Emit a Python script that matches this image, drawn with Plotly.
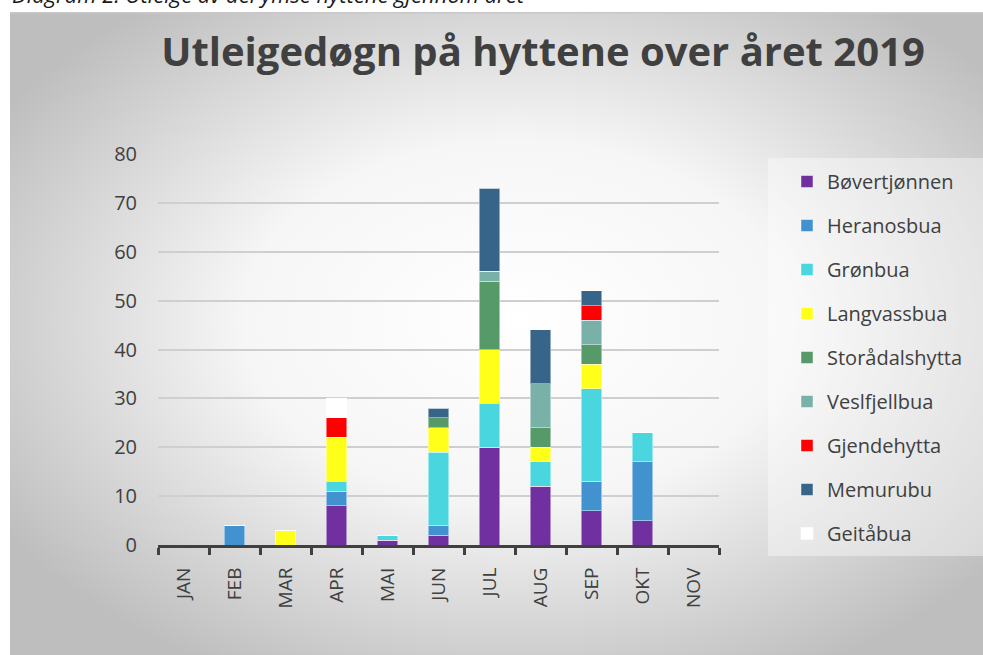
import base64
import plotly.graph_objects as go

# data
months = ["JAN", "FEB", "MAR", "APR", "MAI", "JUN", "JUL", "AUG", "SEP", "OKT", "NOV"]

bovertjonnen = [0, 0, 0, 8, 1, 2, 20, 12, 7, 5, 0]
heranosbua = [0, 4, 0, 3, 0, 2, 0, 0, 6, 12, 0]
gronbua = [0, 0, 0, 2, 1, 15, 9, 5, 19, 6, 0]
langvassbua = [0, 0, 3, 9, 0, 5, 11, 3, 5, 0, 0]
storadalshytta = [0, 0, 0, 0, 0, 2, 14, 4, 4, 0, 0]
veslfjellbua = [0, 0, 0, 0, 0, 0, 2, 9, 5, 0, 0]
gjendehytta = [0, 0, 0, 4, 0, 0, 0, 0, 3, 0, 0]
memurubu = [0, 0, 0, 0, 0, 2, 17, 11, 3, 0, 0]
geitabua = [0, 0, 0, 4, 0, 0, 0, 0, 0, 0, 0]

series = [
    ("Bøvertjønnen", bovertjonnen, "#7030A0"),
    ("Heranosbua", heranosbua, "#4292D0"),
    ("Grønbua", gronbua, "#4AD6DE"),
    ("Langvassbua", langvassbua, "#FFFF1A"),
    ("Storådalshytta", storadalshytta, "#579A69"),
    ("Veslfjellbua", veslfjellbua, "#79B0A8"),
    ("Gjendehytta", gjendehytta, "#FF0000"),
    ("Memurubu", memurubu, "#376589"),
    ("Geitåbua", geitabua, "#FFFFFF"),
]

W, H = 983, 655
L, R, T, B = 158, 719, 154, 545  # plot area in pixels


def px_x(p):
    return (p - L) / (R - L)


def px_y(p):
    return (B - p) / (B - T)


fig = go.Figure()
for i, (name, vals, col) in enumerate(series):
    fig.add_trace(go.Bar(
        x=months, y=vals, name=name, legendgroup=str(i),
        marker=dict(color=col, line=dict(color="rgba(255,255,255,0.45)", width=1)),
    ))

# radial gradient background like the office chart area
svg = (
    '<svg xmlns="http://www.w3.org/2000/svg" width="973" height="643" viewBox="0 0 973 643" '
    'preserveAspectRatio="none"><defs><radialGradient id="g" cx="52%" cy="48%" r="62%">'
    '<stop offset="0" stop-color="#ffffff"/><stop offset="0.45" stop-color="#f6f6f6"/>'
    '<stop offset="1" stop-color="#bebebe"/></radialGradient></defs>'
    '<rect width="973" height="643" fill="url(#g)"/>'
    '<rect width="973" height="1.5" fill="#c8c8c8"/></svg>'
)
bg = "data:image/svg+xml;base64," + base64.b64encode(svg.encode()).decode()

fig.add_layout_image(dict(
    source=bg, xref="paper", yref="paper",
    x=px_x(10), y=px_y(12), sizex=(W - 10) / (R - L), sizey=(H - 12) / (B - T),
    xanchor="left", yanchor="top", sizing="stretch", layer="below",
))

# lighter box behind legend
fig.add_shape(type="rect", xref="paper", yref="paper",
              x0=px_x(768), x1=px_x(990), y0=px_y(556), y1=px_y(158),
              fillcolor="rgba(255,255,255,0.4)", line=dict(width=0), layer="below")

fig.add_annotation(
    text="<i>Diagram 2: Utleige av dei ymse hyttene gjennom året</i>",
    xref="paper", yref="paper", x=px_x(10), y=px_y(11),
    xanchor="left", yanchor="bottom", showarrow=False,
    font=dict(family="Open Sans", size=22, color="#1a1a1a"),
)

fig.update_layout(
    width=W, height=H,
    margin=dict(l=L, r=W - R, t=T, b=H - B),
    paper_bgcolor="white", plot_bgcolor="rgba(0,0,0,0)",
    barmode="stack", bargap=0.59,
    font=dict(family="Open Sans", color="#404040"),
    title=dict(text="<b>Utleigedøgn på hyttene over året 2019</b>",
               x=px_x(543), xanchor="center", xref="paper",
               y=1 - 52 / H, yanchor="middle",
               font=dict(family="Open Sans", size=40, color="#404040")),
    xaxis=dict(
        showline=True, linecolor="#404040", linewidth=3,
        ticks="outside", tickson="boundaries", ticklen=7, tickwidth=3, tickcolor="#404040",
        tickangle=-90, tickfont=dict(size=19, color="#404040"), showgrid=False,
        ticklabelstandoff=12,
    ),
    yaxis=dict(
        range=[0, 80], dtick=10, showgrid=True, gridcolor="#CFCFCF", gridwidth=2,
        zeroline=False, showline=False, ticks="", ticklabelstandoff=20,
        tickfont=dict(size=20, color="#404040"),
    ),
    legend=dict(
        x=px_x(787), y=px_y(162), xanchor="left", yanchor="top",
        traceorder="grouped", tracegroupgap=15, bgcolor="rgba(0,0,0,0)",
        font=dict(size=20, color="#404040"), itemwidth=30,
    ),
)

fig.write_html("out.html", config={"displayModeBar": False},
               post_script="document.body.style.margin='0';")
